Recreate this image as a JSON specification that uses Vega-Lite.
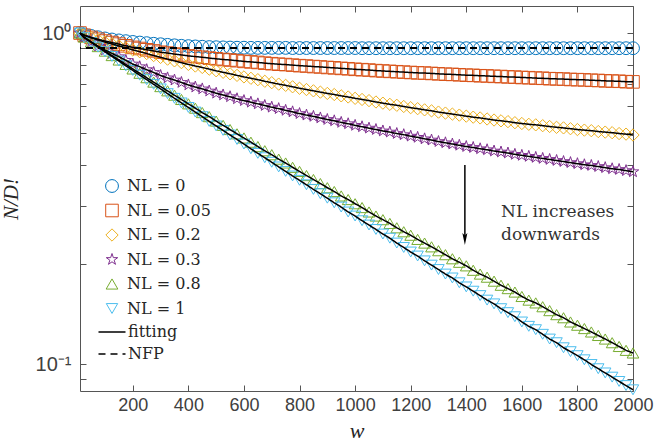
{
  "$schema": "https://vega.github.io/schema/vega-lite/v6.json",
  "width": 553,
  "height": 385,
  "autosize": {"type": "none"},
  "padding": {"left": 80, "top": 6, "right": 23, "bottom": 53},
  "background": "white",
  "config": {
    "view": {"stroke": null},
    "axis": {"grid": false, "domainColor": "#555555", "domainWidth": 1, "tickColor": "#555555", "tickWidth": 1, "labelFont": "Liberation Sans", "labelFontSize": 18, "labelColor": "#404040", "titleColor": "#262626", "titleFontWeight": "normal", "labelOverlap": false, "labelFlush": false, "labelBound": false}
  },
  "datasets": {
    "curves": [
      {"w":10,"a":1,"b":1,"c":1,"d":1,"e":1,"f":1},
      {"w":25,"a":0.99,"b":0.985,"c":0.985,"d":0.97,"e":0.972,"f":0.968},
      {"w":50,"a":0.98,"b":0.97,"c":0.968,"d":0.94,"e":0.94,"f":0.937},
      {"w":75,"a":0.971,"b":0.958,"c":0.953,"d":0.913,"e":0.91,"f":0.907},
      {"w":100,"a":0.963,"b":0.946,"c":0.939,"d":0.889,"e":0.882,"f":0.878},
      {"w":125,"a":0.956,"b":0.936,"c":0.927,"d":0.868,"e":0.855,"f":0.85},
      {"w":150,"a":0.95,"b":0.926,"c":0.914,"d":0.848,"e":0.829,"f":0.823},
      {"w":175,"a":0.945,"b":0.915,"c":0.902,"d":0.827,"e":0.804,"f":0.796},
      {"w":200,"a":0.94,"b":0.905,"c":0.889,"d":0.806,"e":0.779,"f":0.771},
      {"w":225,"a":0.936,"b":0.898,"c":0.878,"d":0.791,"e":0.756,"f":0.746},
      {"w":250,"a":0.932,"b":0.89,"c":0.867,"d":0.775,"e":0.733,"f":0.723},
      {"w":275,"a":0.928,"b":0.883,"c":0.855,"d":0.76,"e":0.711,"f":0.7},
      {"w":300,"a":0.925,"b":0.875,"c":0.844,"d":0.744,"e":0.689,"f":0.678},
      {"w":325,"a":0.921,"b":0.87,"c":0.834,"d":0.732,"e":0.669,"f":0.656},
      {"w":350,"a":0.918,"b":0.864,"c":0.824,"d":0.721,"e":0.649,"f":0.635},
      {"w":375,"a":0.915,"b":0.859,"c":0.814,"d":0.709,"e":0.63,"f":0.615},
      {"w":400,"a":0.913,"b":0.853,"c":0.804,"d":0.697,"e":0.611,"f":0.596},
      {"w":425,"a":0.911,"b":0.849,"c":0.795,"d":0.687,"e":0.593,"f":0.577},
      {"w":450,"a":0.909,"b":0.845,"c":0.787,"d":0.678,"e":0.575,"f":0.559},
      {"w":475,"a":0.907,"b":0.84,"c":0.778,"d":0.668,"e":0.559,"f":0.541},
      {"w":500,"a":0.906,"b":0.836,"c":0.769,"d":0.658,"e":0.542,"f":0.524},
      {"w":525,"a":0.905,"b":0.832,"c":0.761,"d":0.65,"e":0.526,"f":0.508},
      {"w":550,"a":0.904,"b":0.829,"c":0.753,"d":0.642,"e":0.511,"f":0.492},
      {"w":575,"a":0.903,"b":0.825,"c":0.745,"d":0.633,"e":0.496,"f":0.477},
      {"w":600,"a":0.903,"b":0.821,"c":0.737,"d":0.625,"e":0.482,"f":0.462},
      {"w":625,"a":0.902,"b":0.818,"c":0.73,"d":0.618,"e":0.468,"f":0.447},
      {"w":650,"a":0.902,"b":0.815,"c":0.723,"d":0.611,"e":0.454,"f":0.433},
      {"w":675,"a":0.902,"b":0.811,"c":0.715,"d":0.604,"e":0.441,"f":0.42},
      {"w":700,"a":0.902,"b":0.808,"c":0.708,"d":0.597,"e":0.429,"f":0.407},
      {"w":725,"a":0.902,"b":0.805,"c":0.701,"d":0.591,"e":0.416,"f":0.394},
      {"w":750,"a":0.902,"b":0.803,"c":0.695,"d":0.584,"e":0.405,"f":0.382},
      {"w":775,"a":0.901,"b":0.8,"c":0.688,"d":0.578,"e":0.393,"f":0.37},
      {"w":800,"a":0.901,"b":0.797,"c":0.681,"d":0.571,"e":0.382,"f":0.359},
      {"w":825,"a":0.901,"b":0.795,"c":0.675,"d":0.565,"e":0.371,"f":0.348},
      {"w":850,"a":0.901,"b":0.792,"c":0.669,"d":0.56,"e":0.361,"f":0.337},
      {"w":875,"a":0.901,"b":0.79,"c":0.663,"d":0.554,"e":0.351,"f":0.327},
      {"w":900,"a":0.901,"b":0.787,"c":0.657,"d":0.548,"e":0.341,"f":0.317},
      {"w":925,"a":0.901,"b":0.785,"c":0.652,"d":0.543,"e":0.332,"f":0.307},
      {"w":950,"a":0.901,"b":0.782,"c":0.646,"d":0.537,"e":0.322,"f":0.298},
      {"w":975,"a":0.901,"b":0.78,"c":0.641,"d":0.532,"e":0.314,"f":0.288},
      {"w":1000,"a":0.901,"b":0.777,"c":0.635,"d":0.526,"e":0.305,"f":0.28},
      {"w":1025,"a":0.9,"b":0.775,"c":0.63,"d":0.521,"e":0.297,"f":0.271},
      {"w":1050,"a":0.9,"b":0.773,"c":0.625,"d":0.516,"e":0.288,"f":0.263},
      {"w":1075,"a":0.9,"b":0.77,"c":0.619,"d":0.511,"e":0.28,"f":0.255},
      {"w":1100,"a":0.9,"b":0.768,"c":0.614,"d":0.506,"e":0.273,"f":0.247},
      {"w":1125,"a":0.9,"b":0.766,"c":0.609,"d":0.502,"e":0.266,"f":0.24},
      {"w":1150,"a":0.9,"b":0.764,"c":0.605,"d":0.497,"e":0.258,"f":0.232},
      {"w":1175,"a":0.9,"b":0.762,"c":0.6,"d":0.493,"e":0.251,"f":0.225},
      {"w":1200,"a":0.9,"b":0.76,"c":0.595,"d":0.488,"e":0.245,"f":0.218},
      {"w":1225,"a":0.9,"b":0.758,"c":0.591,"d":0.484,"e":0.238,"f":0.212},
      {"w":1250,"a":0.9,"b":0.757,"c":0.586,"d":0.479,"e":0.232,"f":0.205},
      {"w":1275,"a":0.9,"b":0.755,"c":0.582,"d":0.475,"e":0.226,"f":0.199},
      {"w":1300,"a":0.9,"b":0.753,"c":0.577,"d":0.47,"e":0.22,"f":0.193},
      {"w":1325,"a":0.9,"b":0.751,"c":0.573,"d":0.466,"e":0.214,"f":0.187},
      {"w":1350,"a":0.9,"b":0.75,"c":0.569,"d":0.462,"e":0.208,"f":0.182},
      {"w":1375,"a":0.9,"b":0.748,"c":0.565,"d":0.458,"e":0.203,"f":0.176},
      {"w":1400,"a":0.9,"b":0.746,"c":0.561,"d":0.454,"e":0.198,"f":0.171},
      {"w":1425,"a":0.9,"b":0.745,"c":0.557,"d":0.451,"e":0.192,"f":0.166},
      {"w":1450,"a":0.9,"b":0.743,"c":0.554,"d":0.447,"e":0.187,"f":0.161},
      {"w":1475,"a":0.9,"b":0.742,"c":0.55,"d":0.444,"e":0.183,"f":0.156},
      {"w":1500,"a":0.9,"b":0.74,"c":0.546,"d":0.44,"e":0.178,"f":0.152},
      {"w":1525,"a":0.9,"b":0.739,"c":0.543,"d":0.437,"e":0.173,"f":0.147},
      {"w":1550,"a":0.9,"b":0.737,"c":0.54,"d":0.434,"e":0.169,"f":0.143},
      {"w":1575,"a":0.9,"b":0.736,"c":0.536,"d":0.43,"e":0.165,"f":0.139},
      {"w":1600,"a":0.9,"b":0.734,"c":0.533,"d":0.427,"e":0.16,"f":0.134},
      {"w":1625,"a":0.9,"b":0.733,"c":0.53,"d":0.424,"e":0.156,"f":0.13},
      {"w":1650,"a":0.9,"b":0.731,"c":0.528,"d":0.421,"e":0.153,"f":0.127},
      {"w":1675,"a":0.9,"b":0.73,"c":0.525,"d":0.418,"e":0.149,"f":0.123},
      {"w":1700,"a":0.9,"b":0.728,"c":0.522,"d":0.415,"e":0.145,"f":0.119},
      {"w":1725,"a":0.9,"b":0.727,"c":0.519,"d":0.412,"e":0.141,"f":0.116},
      {"w":1750,"a":0.9,"b":0.726,"c":0.517,"d":0.409,"e":0.138,"f":0.112},
      {"w":1775,"a":0.9,"b":0.724,"c":0.514,"d":0.406,"e":0.134,"f":0.109},
      {"w":1800,"a":0.9,"b":0.723,"c":0.511,"d":0.403,"e":0.131,"f":0.106},
      {"w":1825,"a":0.9,"b":0.722,"c":0.509,"d":0.4,"e":0.128,"f":0.103},
      {"w":1850,"a":0.9,"b":0.72,"c":0.507,"d":0.398,"e":0.125,"f":0.0997},
      {"w":1875,"a":0.9,"b":0.719,"c":0.504,"d":0.395,"e":0.122,"f":0.0968},
      {"w":1900,"a":0.9,"b":0.717,"c":0.502,"d":0.392,"e":0.119,"f":0.094},
      {"w":1925,"a":0.9,"b":0.716,"c":0.5,"d":0.389,"e":0.116,"f":0.0913},
      {"w":1950,"a":0.9,"b":0.715,"c":0.497,"d":0.387,"e":0.113,"f":0.0886},
      {"w":1975,"a":0.9,"b":0.713,"c":0.495,"d":0.384,"e":0.11,"f":0.0861},
      {"w":2000,"a":0.9,"b":0.712,"c":0.492,"d":0.381,"e":0.108,"f":0.0836}
    ]
  },
  "data": {"name": "curves"},
  "resolve": {"axis": {"x": "independent", "y": "independent"}},
  "layer": [
    {
      "transform": [{"fold": ["a", "b", "c", "d", "e", "f"], "as": ["key", "v"]}],
      "mark": {"type": "point", "filled": false, "strokeWidth": 1, "opacity": 1},
      "encoding": {
        "x": {"field": "w", "type": "quantitative", "scale": {"domain": [10, 2000], "nice": false, "zero": false},
              "axis": {"orient": "top", "values": [200,400,600,800,1000,1200,1400,1600,1800,2000], "labels": false, "tickSize": -6, "title": null}},
        "y": {"field": "v", "type": "quantitative", "scale": {"type": "log", "domain": [0.0829, 1.207], "nice": false},
              "axis": {"orient": "right", "values": [0.09,0.1,0.2,0.3,0.4,0.5,0.6,0.7,0.8,0.9,1], "labels": false, "tickSize": -6, "title": null}},
        "color": {"field": "key", "type": "nominal",
                  "scale": {"domain": ["a","b","c","d","e","f"], "range": ["#0072BD","#D95319","#EDB120","#7E2F8E","#77AC30","#4DBEEE"]},
                  "legend": {"title": null, "orient": "none", "legendX": 24, "legendY": 172, "padding": 0, "gridAlign": "all",
                             "labelExpr": "datum.label == 'a' ? 'NL = 0' : datum.label == 'b' ? 'NL = 0.05' : datum.label == 'c' ? 'NL = 0.2' : datum.label == 'd' ? 'NL = 0.3' : datum.label == 'e' ? 'NL = 0.8' : 'NL = 1'",
                             "labelFont": "DejaVu Serif", "labelFontSize": 16, "labelColor": "#262626", "symbolSize": 160, "symbolStrokeWidth": 1, "rowPadding": 6.5, "labelOffset": 7}},
        "shape": {"field": "key", "type": "nominal",
                  "scale": {"domain": ["a","b","c","d","e","f"], "range": ["circle","square","diamond","M0,-1L0.2245,-0.309L0.951,-0.309L0.3633,0.118L0.588,0.809L0,0.382L-0.588,0.809L-0.3633,0.118L-0.951,-0.309L-0.2245,-0.309Z","triangle-up","triangle-down"]},
                  "legend": {"title": null, "orient": "none", "legendX": 24, "legendY": 172, "padding": 0, "gridAlign": "all",
                             "labelExpr": "datum.label == 'a' ? 'NL = 0' : datum.label == 'b' ? 'NL = 0.05' : datum.label == 'c' ? 'NL = 0.2' : datum.label == 'd' ? 'NL = 0.3' : datum.label == 'e' ? 'NL = 0.8' : 'NL = 1'",
                             "labelFont": "DejaVu Serif", "labelFontSize": 16, "labelColor": "#262626", "symbolSize": 160, "symbolStrokeWidth": 1, "rowPadding": 6.5, "labelOffset": 7}},
        "size": {"field": "key", "type": "nominal",
                 "scale": {"domain": ["a","b","c","d","e","f"], "range": [165, 130, 250, 260, 210, 210]},
                 "legend": null},
        "order": {"field": "key", "type": "ordinal"}
      }
    },
    {
      "transform": [{"fold": ["b", "c", "d", "e", "f"], "as": ["key", "v"]}],
      "mark": {"type": "line", "color": "black", "strokeWidth": 1.5},
      "encoding": {
        "x": {"field": "w", "type": "quantitative",
              "axis": {"orient": "bottom", "values": [200,400,600,800,1000,1200,1400,1600,1800,2000], "format": "d", "tickSize": -6, "labelPadding": 11, "title": "w", "titleFont": "Liberation Serif", "titleFontStyle": "italic", "titleFontSize": 22, "titlePadding": 6}},
        "y": {"field": "v", "type": "quantitative",
              "axis": {"orient": "left", "values": [0.09,0.1,0.2,0.3,0.4,0.5,0.6,0.7,0.8,0.9,1], "tickSize": -6, "labelPadding": 15, "labelFontSize": 20,
                       "labelExpr": "datum.value == 1 ? '10⁰' : (datum.value == 0.1 ? '10⁻¹' : '')",
                       "title": "N/D!", "titleFont": "Liberation Serif", "titleFontStyle": "italic", "titleFontSize": 21, "titlePadding": 14}},
        "detail": {"field": "key", "type": "nominal"},
        "strokeDash": {"datum": "fitting", "type": "nominal",
                       "scale": {"domain": ["fitting", "NFP"], "range": [[1, 0], [7, 5]]},
                       "legend": {"title": null, "orient": "none", "legendX": 21, "legendY": 315, "padding": 0, "symbolType": "M-1.35,0L1.35,0", "symbolSize": 400,
                                  "symbolStrokeColor": "black", "symbolStrokeWidth": 1.5, "labelFont": "DejaVu Serif", "labelFontSize": 16, "labelColor": "#262626", "labelOffset": 5, "rowPadding": 3}}
      }
    },
    {
      "mark": {"type": "rule", "color": "black", "strokeWidth": 1.5},
      "encoding": {
        "y": {"datum": 0.9, "type": "quantitative", "axis": null},
        "strokeDash": {"datum": "NFP", "type": "nominal"}
      }
    },
    {
      "data": {"values": [{"w": 1395, "v1": 0.3993, "v2": 0.24}]},
      "mark": {"type": "rule", "color": "black", "strokeWidth": 1.5},
      "encoding": {
        "x": {"field": "w", "type": "quantitative", "axis": null},
        "y": {"field": "v1", "type": "quantitative", "axis": null},
        "y2": {"field": "v2"}
      }
    },
    {
      "data": {"values": [{"w": 1395, "v": 0.2385}]},
      "mark": {"type": "point", "filled": true, "color": "black", "opacity": 1, "size": 144, "shape": "M-0.42,-1L0,1L0.42,-1L0,-0.6Z"},
      "encoding": {
        "x": {"field": "w", "type": "quantitative", "axis": null},
        "y": {"field": "v", "type": "quantitative", "axis": null}
      }
    },
    {
      "data": {"values": [{"w": 1525, "v": 0.278, "t": "NL increases"}, {"w": 1525, "v": 0.2369, "t": "downwards"}]},
      "mark": {"type": "text", "align": "left", "baseline": "alphabetic", "font": "DejaVu Serif", "fontSize": 17, "color": "#333333"},
      "encoding": {
        "x": {"field": "w", "type": "quantitative", "axis": null},
        "y": {"field": "v", "type": "quantitative", "axis": null},
        "text": {"field": "t"}
      }
    }
  ]
}
